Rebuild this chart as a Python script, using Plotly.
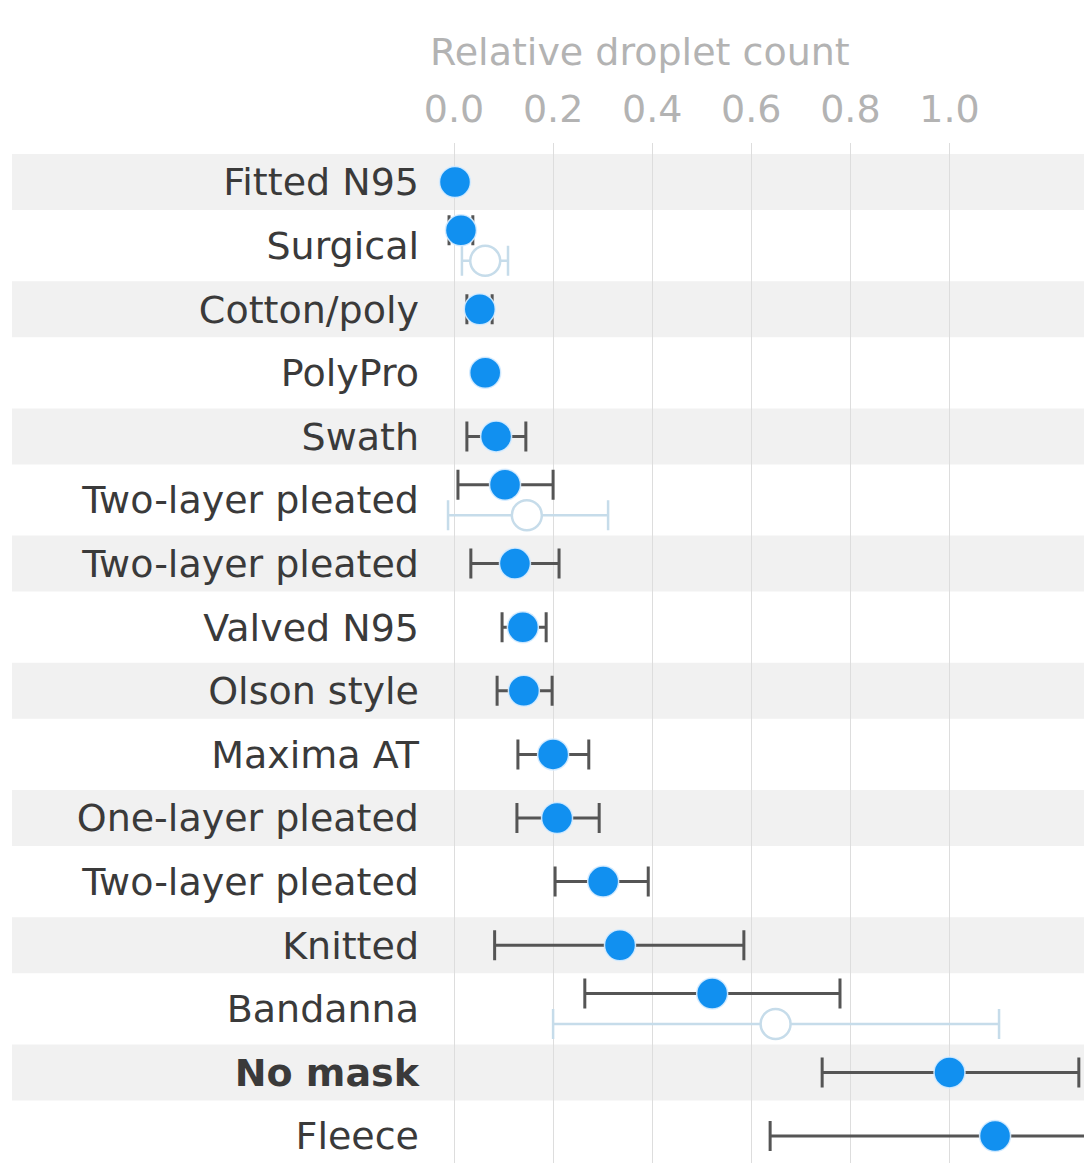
import plotly.graph_objects as go

# ---- data ----
categories = ["Fitted N95", "Surgical", "Cotton/poly", "PolyPro", "Swath",
              "Two-layer pleated", "Two-layer pleated", "Valved N95", "Olson style",
              "Maxima AT", "One-layer pleated", "Two-layer pleated", "Knitted",
              "Bandanna", "No mask", "Fleece"]
values = [0.002, 0.014, 0.052, 0.063, 0.085, 0.103, 0.123, 0.139, 0.141,
          0.200, 0.208, 0.301, 0.335, 0.521, 1.000, 1.092]
err_low = [0.000, -0.010, 0.026, 0.058, 0.026, 0.008, 0.034, 0.097, 0.087,
           0.129, 0.127, 0.204, 0.082, 0.264, 0.743, 0.638]
err_high = [0.004, 0.038, 0.077, 0.068, 0.145, 0.200, 0.212, 0.186, 0.198,
            0.272, 0.293, 0.392, 0.585, 0.779, 1.261, 1.550]

# second measurement (open circles)
sec_rows = [1, 5, 13]
sec_values = [0.063, 0.147, 0.649]
sec_low = [0.016, -0.012, 0.200]
sec_high = [0.109, 0.311, 1.100]

x_tickvals = [0.0, 0.2, 0.4, 0.6, 0.8, 1.0]
x_ticktext = ["0.0", "0.2", "0.4", "0.6", "0.8", "1.0"]
bold_rows = [14]

# ---- styling ----
W, H = 1084, 1163
ML, MT = 428, 143
FONT = "DejaVu Sans"
FS = 38
BLUE = "#1190f0"
DARK = "#555555"
LIGHT = "#c6dcea"
offset = 0.24

n = len(categories)
rows = list(range(n))
y_main = [r - offset if r in sec_rows else r for r in rows]
y_sec = [r + offset for r in sec_rows]

fig = go.Figure()

# striped row backgrounds
for r in rows:
    if r % 2 == 0:
        fig.add_shape(type="rect", xref="paper", yref="y",
                      x0=(12 - ML) / (W - ML), x1=1, y0=r - 0.44, y1=r + 0.44,
                      fillcolor="#f1f1f1", line_width=0, layer="below")

fig.add_trace(go.Scatter(
    x=sec_values, y=y_sec, mode="markers",
    marker=dict(size=30, color="white", line=dict(color=LIGHT, width=2.5)),
    error_x=dict(type="data", symmetric=False,
                 array=[h - v for h, v in zip(sec_high, sec_values)],
                 arrayminus=[v - l for v, l in zip(sec_values, sec_low)],
                 color=LIGHT, thickness=2.5, width=15),
    showlegend=False, hoverinfo="x"))

fig.add_trace(go.Scatter(
    x=values, y=y_main, mode="markers",
    marker=dict(size=31, color=BLUE, line=dict(color="rgba(215,236,255,0.9)", width=1.5)),
    error_x=dict(type="data", symmetric=False,
                 array=[h - v for h, v in zip(err_high, values)],
                 arrayminus=[v - l for v, l in zip(values, err_low)],
                 color=DARK, thickness=3, width=15),
    showlegend=False, hoverinfo="x"))

ticktext = [f"<b>{c}</b>" if i in bold_rows else c for i, c in enumerate(categories)]

px_per_unit = 495.5
x0 = (ML - 454) / px_per_unit
x1 = (W - 454) / px_per_unit
row_px = 63.6
y_top = -(182 - MT) / row_px
y_bot = (H - 182) / row_px

fig.update_layout(
    template="none",
    width=W, height=H,
    margin=dict(l=ML, r=0, t=MT, b=0, pad=0),
    paper_bgcolor="white", plot_bgcolor="white",
    font=dict(family=FONT, size=FS),
    xaxis=dict(side="top", range=[x0, x1], tickvals=x_tickvals, ticktext=x_ticktext,
               showgrid=True, gridcolor="#dddddd", gridwidth=1, zeroline=False,
               showline=False, ticks="", ticklabelstandoff=12,
               tickfont=dict(family=FONT, size=FS, color="#b3b3b3"), automargin=False),
    yaxis=dict(range=[y_bot, y_top], tickvals=rows, ticktext=ticktext,
               showgrid=False, zeroline=False, showline=False, ticks="",
               ticklabelstandoff=8,
               tickfont=dict(family=FONT, size=FS, color="#3a3a3a"), automargin=False),
    annotations=[dict(text="Relative droplet count", xref="paper", yref="paper",
                      x=0, y=1 + (MT - 52) / (H - MT), xanchor="left", yanchor="middle",
                      showarrow=False, font=dict(family=FONT, size=FS, color="#b3b3b3"))],
)

fig.write_html("out.html", config={"displayModeBar": False},
               post_script="document.body.style.margin='0';document.body.style.overflow='hidden';")
